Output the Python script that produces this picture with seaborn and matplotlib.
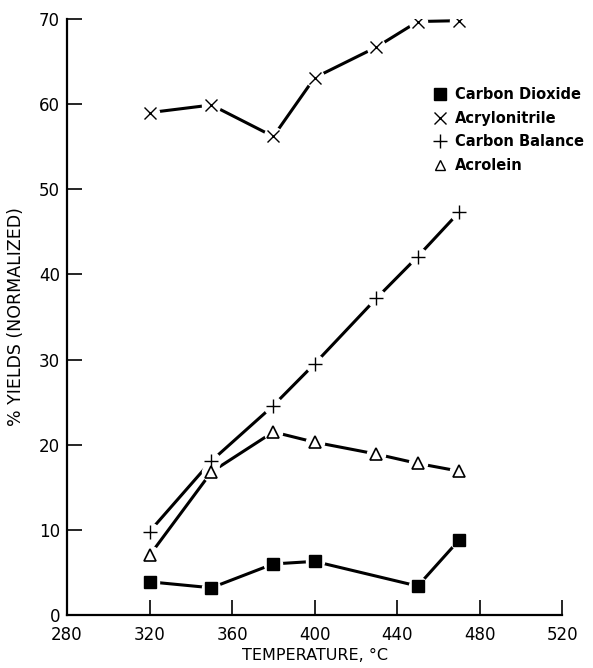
import matplotlib
matplotlib.use("Agg")
import matplotlib.pyplot as plt
from matplotlib.lines import Line2D
import seaborn as sns
import pandas as pd

temps = [320, 350, 380, 400, 430, 450, 470]
co2_temps = [320, 350, 380, 400, 450, 470]
co2 = [3.9, 3.2, 6.0, 6.3, 3.4, 8.8]
acrylonitrile = [59.0, 59.9, 56.2, 63.1, 66.7, 69.7, 69.8]
carbon_balance = [9.8, 18.1, 24.6, 29.5, 37.2, 42.1, 47.3]
acrolein = [7.0, 16.8, 21.5, 20.3, 18.9, 17.8, 16.9]

series_names = ["Carbon Dioxide", "Acrylonitrile", "Carbon Balance", "Acrolein"]
xticks = [280, 320, 360, 400, 440, 480, 520]
yticks = [0, 10, 20, 30, 40, 50, 60, 70]

sns.set_style("ticks")
plt.rcParams["font.family"] = ["DejaVu Sans"]
plt.rcParams["text.color"] = "black"
plt.rcParams["axes.labelcolor"] = "black"
plt.rcParams["xtick.labelcolor"] = "black"
plt.rcParams["ytick.labelcolor"] = "black"

fig = plt.figure(figsize=(5.93, 6.68), dpi=100)
ax = fig.add_axes([0.113, 0.0793, 0.835, 0.8923])

series = [
    (co2_temps, co2, "s", dict(mfc="black", mec="black", ms=8)),
    (temps, acrylonitrile, "x", dict(mec="black", ms=9, mew=1.0)),
    (temps, carbon_balance, "+", dict(mec="black", ms=10, mew=1.0)),
    (temps, acrolein, "^", dict(mfc="white", mec="black", ms=8, mew=1.2)),
]

for (xs, ys, m, kw), name in zip(series, series_names):
    df = pd.DataFrame({"x": xs, "y": ys})
    sns.lineplot(data=df, x="x", y="y", ax=ax, color="black", lw=2.2,
                 estimator=None, sort=False, zorder=1)
    # white gap around each marker
    ax.plot(xs, ys, ls="none", marker="o", ms=13, mfc="white", mec="white", zorder=2)
    ax.plot(xs, ys, ls="none", marker=m, zorder=3, **kw)

ax.set_xlim(280, 520)
ax.set_ylim(0, 70)
ax.set_xticks(xticks)
ax.set_yticks(yticks)
ax.tick_params(direction="in", length=11, width=1.2, labelsize=12, color="black",
               labelcolor="black")
ax.tick_params(axis="x", pad=8)
ax.tick_params(axis="y", pad=5)
for s in ["top", "right"]:
    ax.spines[s].set_visible(False)
for s in ["left", "bottom"]:
    ax.spines[s].set_linewidth(1.6)
    ax.spines[s].set_color("black")

ax.set_xlabel("TEMPERATURE, °C", fontsize=11.5, labelpad=3, color="black")
ax.set_ylabel("% YIELDS (NORMALIZED)", fontsize=12.5, labelpad=10, color="black")

handles = [
    Line2D([], [], ls="none", marker="s", mfc="black", mec="black", ms=8),
    Line2D([], [], ls="none", marker="x", mec="black", ms=9, mew=1.0),
    Line2D([], [], ls="none", marker="+", mec="black", ms=10, mew=1.0),
    Line2D([], [], ls="none", marker="^", mfc="white", mec="black", ms=7, mew=1.0),
]
leg = ax.legend(handles, series_names, loc="upper left", bbox_to_anchor=(0.73, 0.895),
                frameon=False, fontsize=10.5, handlelength=0.8, handletextpad=0.6,
                labelspacing=0.58, borderaxespad=0)
for t in leg.get_texts():
    t.set_fontweight("semibold")
    t.set_color("black")

fig.savefig("out.png", dpi=100)
